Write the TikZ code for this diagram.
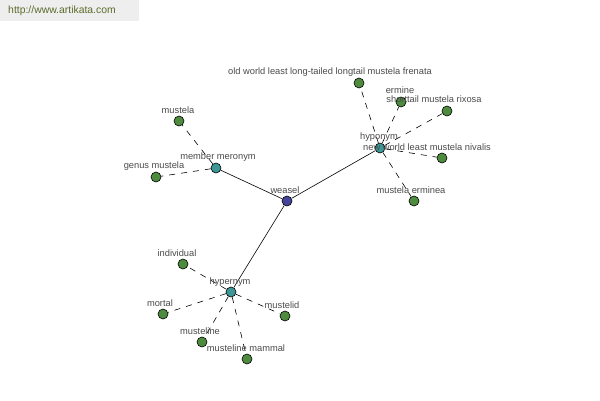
\documentclass[tikz,border=0pt]{standalone}
\usepackage{fontspec}
\setmainfont{Liberation Sans}
\usepackage{tikz}
\usetikzlibrary{positioning}

\definecolor{leafgreen}{HTML}{4E8B3F}
\definecolor{hubteal}{HTML}{3D9797}
\definecolor{rootblue}{HTML}{45459C}
\definecolor{tagtext}{HTML}{4A4A4A}
\definecolor{markgray}{HTML}{EEEEEE}
\definecolor{markolive}{HTML}{5B6B2B}

\begin{document}
\begin{tikzpicture}[
    x=1pt, y=-1pt,
    font=\fontsize{9.3}{11}\selectfont
]

    % Styles
    \tikzset{
        dot/.style={circle, draw=black, line width=0.6pt, minimum size=10pt, inner sep=0pt},
        leaf/.style={dot, fill=leafgreen},
        hub/.style={dot, fill=hubteal},
        root/.style={dot, fill=rootblue},
        tag/.style={text=tagtext, inner sep=0pt},
        rel/.style={line width=0.6pt},
        sub/.style={line width=0.6pt, dash pattern=on 6pt off 6pt}
    }

    % Canvas and watermark
    \useasboundingbox (0,0) rectangle (600,400);
    \fill[markgray] (0,0) rectangle (139,21);
    \node[text=markolive, font=\fontsize{10.4}{12}\selectfont, inner sep=0pt] (mark) at (62,11) {http://www.artikata.com};

    % Root
    \node[root] (weasel) at (287,201) {};

    % Relation hubs
    \node[hub] (meronym) at (216,168) {};
    \node[hub] (hyponym) at (380,148) {};
    \node[hub] (hypernym) at (231,292) {};

    % Member meronym leaves
    \node[leaf] (mustela) at (179,121) {};
    \node[leaf] (genus) at (156,177) {};

    % Hyponym leaves
    \node[leaf] (frenata) at (359,83) {};
    \node[leaf] (ermine) at (401,102) {};
    \node[leaf] (rixosa) at (447,111) {};
    \node[leaf] (nivalis) at (442,158) {};
    \node[leaf] (erminea) at (414,201) {};

    % Hypernym leaves
    \node[leaf] (individual) at (183,264) {};
    \node[leaf] (mortal) at (163,314) {};
    \node[leaf] (mustelid) at (285,316) {};
    \node[leaf] (musteline) at (202,342) {};
    \node[leaf] (mammal) at (247,359) {};

    % Relations
    \draw[rel] (weasel) -- (meronym);
    \draw[rel] (weasel) -- (hyponym);
    \draw[rel] (weasel) -- (hypernym);

    \foreach \l in {mustela, genus}
        \draw[sub] (meronym) -- (\l);
    \foreach \l in {frenata, ermine, rixosa, nivalis, erminea}
        \draw[sub] (hyponym) -- (\l);
    \foreach \l in {individual, mortal, mustelid, musteline, mammal}
        \draw[sub] (hypernym) -- (\l);

    % Labels
    \node[tag] (weasel-t) at (285,190) {weasel};
    \node[tag] (meronym-t) at (218,157) {member meronym};
    \node[tag] (hyponym-t) at (379,137) {hyponym};
    \node[tag] (hypernym-t) at (230,282) {hypernym};
    \node[tag] (mustela-t) at (178,110) {mustela};
    \node[tag] (genus-t) at (154,166) {genus mustela};
    \node[tag] (frenata-t) at (330,72) {old world least long-tailed longtail mustela frenata};
    \node[tag] (ermine-t) at (400,90) {ermine};
    \node[tag] (rixosa-t) at (434,99) {shorttail mustela rixosa};
    \node[tag] (nivalis-t) at (427,147) {new world least mustela nivalis};
    \node[tag] (erminea-t) at (411,190) {mustela erminea};
    \node[tag] (individual-t) at (177,253) {individual};
    \node[tag] (mortal-t) at (160,303) {mortal};
    \node[tag] (mustelid-t) at (282,305) {mustelid};
    \node[tag] (musteline-t) at (200,331) {musteline};
    \node[tag] (mammal-t) at (246,348) {musteline mammal};

\end{tikzpicture}
\end{document}
